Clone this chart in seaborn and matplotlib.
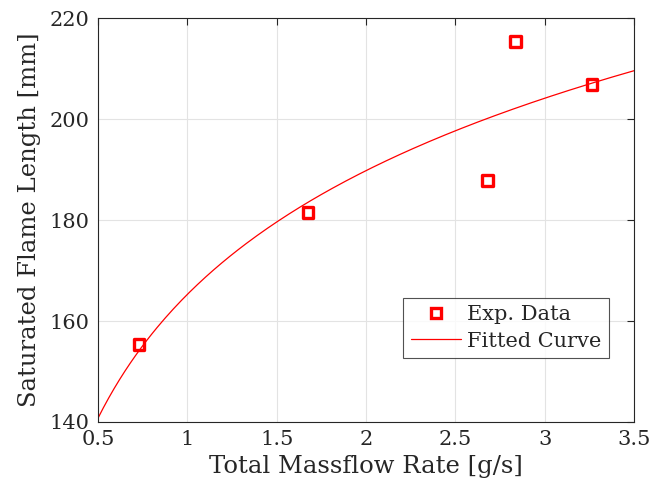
import numpy as np
import pandas as pd
import matplotlib
matplotlib.use("Agg")
import matplotlib.pyplot as plt
import seaborn as sns
from matplotlib.lines import Line2D

# 实验数据
massflow = [0.73, 1.675, 2.68, 2.835, 3.265]
flame_length = [155.4, 181.5, 187.8, 215.4, 206.9]
x_ticks = [0.5, 1, 1.5, 2, 2.5, 3, 3.5]
y_ticks = [140, 160, 180, 200, 220]

sns.set_style("white")
plt.rcParams['font.family'] = ['DejaVu Serif']

# 对数拟合 y = a + b*ln(x)
b, a = np.polyfit(np.log(massflow), flame_length, 1)
x_fit = np.linspace(0.5, 3.5, 200)
fit_df = pd.DataFrame({'x': x_fit, 'y': a + b * np.log(x_fit)})
exp_df = pd.DataFrame({'x': massflow, 'y': flame_length})

fig = plt.figure(figsize=(6.51, 5.01), dpi=100)
ax = fig.add_axes([0.1505, 0.1577, 0.8235, 0.8063])

sns.lineplot(data=fit_df, x='x', y='y', ax=ax, color='red', linewidth=0.9)
sns.scatterplot(data=exp_df, x='x', y='y', ax=ax, marker='s', s=60,
                fc='none', ec='red', linewidth=2.4, zorder=3)

ax.set_xlim(0.5, 3.5)
ax.set_ylim(140, 220)
ax.set_xticks(x_ticks)
ax.set_xticklabels([f"{t:g}" for t in x_ticks])
ax.set_yticks(y_ticks)
ax.grid(True, color='#e3e3e3', linewidth=0.8)
ax.tick_params(direction='in', length=5, width=0.8, colors='#262626',
               labelsize=15, top=True, right=True, pad=6)
for sp in ax.spines.values():
    sp.set_color('#262626')
    sp.set_linewidth(0.8)

ax.set_xlabel('Total Massflow Rate [g/s]', fontsize=17.5, color='#262626', labelpad=4)
ax.set_ylabel('Saturated Flame Length [mm]', fontsize=17.5, color='#262626', labelpad=6)

handles = [Line2D([], [], marker='s', linestyle='none', mfc='none', mec='red',
                  mew=2.4, markersize=7.7),
           Line2D([], [], color='red', linewidth=0.9)]
leg = ax.legend(handles, ['Exp. Data', 'Fitted Curve'], loc='lower left',
                bbox_to_anchor=(0.569, 0.158), borderaxespad=0, fontsize=15,
                frameon=True, fancybox=False, handlelength=2.4,
                borderpad=0.36, labelspacing=0.36, handletextpad=0.3)
leg.get_frame().set_edgecolor('#262626')
leg.get_frame().set_linewidth(0.8)

fig.savefig('out.png', dpi=100)
